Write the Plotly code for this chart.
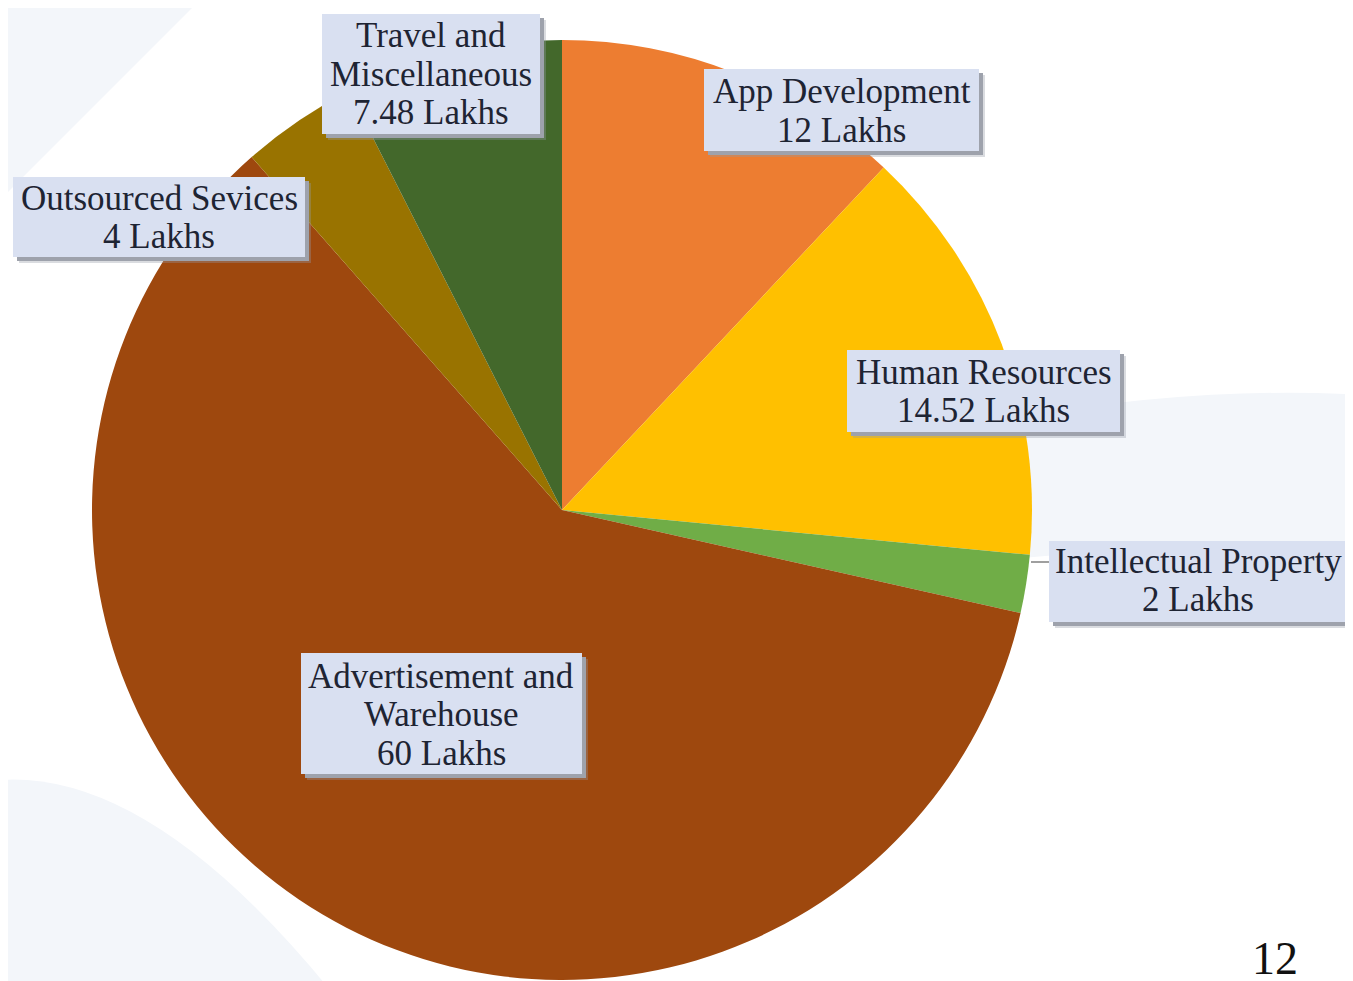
import plotly.graph_objects as go

categories = ["App Development", "Human Resources", "Intellectual Property",
              "Advertisement and Warehouse", "Outsourced Sevices", "Travel and Miscellaneous"]
values = [12, 14.52, 2, 60, 4, 7.48]
value_texts = ["12 Lakhs", "14.52 Lakhs", "2 Lakhs", "60 Lakhs", "4 Lakhs", "7.48 Lakhs"]
name_lines = [["App Development"], ["Human Resources"], ["Intellectual Property"],
              ["Advertisement and", "Warehouse"], ["Outsourced Sevices"],
              ["Travel and", "Miscellaneous"]]
colors = ["#ED7D31", "#FFC000", "#70AD47", "#9E480E", "#997300", "#43682B"]

W, H = 1353, 981
OFF = 8  # page body margin


def px(x):
    return (x - OFF) / W


def py(y):
    return 1 - (y - OFF) / H


# label boxes in window pixels: (x0, x1, y0, y1, first line centre y) -- layout only
label_boxes = [(704, 979, 69, 151, 92),
               (847, 1120, 350, 432, 372),
               (1049, 1347, 541, 622, 561),
               (301, 582, 653, 774, 676),
               (13, 305, 177, 257, 198),
               (322, 540, 14, 134, 36)]
PITCH = 38.5
FONT = "Liberation Serif, Times New Roman, DejaVu Serif, serif"
FSIZE = 35

fig = go.Figure()
fig.add_trace(go.Pie(
    labels=categories, values=values, sort=False, direction="clockwise", rotation=0,
    marker=dict(colors=colors, line=dict(width=0)),
    textinfo="none", hoverinfo="label+value", showlegend=False,
    domain=dict(x=[px(92), px(1032)], y=[py(980), py(40)]),
))

bg = "#F3F6FA"
shapes = [
    dict(type="path", xref="paper", yref="paper", layer="below",
         path=f"M {px(0)},{py(780)} Q {px(150)},{py(770)} {px(330)},{py(990)} L {px(0)},{py(990)} Z",
         fillcolor=bg, line=dict(width=0)),
    dict(type="path", xref="paper", yref="paper", layer="below",
         path=f"M {px(1000)},{py(420)} Q {px(1200)},{py(385)} {px(1361)},{py(395)} "
              f"L {px(1361)},{py(560)} Q {px(1200)},{py(540)} {px(1000)},{py(560)} Z",
         fillcolor=bg, line=dict(width=0)),
    dict(type="path", xref="paper", yref="paper", layer="below",
         path=f"M {px(0)},{py(0)} L {px(200)},{py(0)} Q {px(120)},{py(80)} {px(0)},{py(200)} Z",
         fillcolor=bg, line=dict(width=0)),
    dict(type="line", xref="paper", yref="paper", x0=px(1031), x1=px(1049),
         y0=py(562), y1=py(562), line=dict(color="#7F7F7F", width=1.5)),
]
annotations = []
for lines, vt, (x0, x1, y0, y1, ly) in zip(name_lines, value_texts, label_boxes):
    shapes.append(dict(type="rect", xref="paper", yref="paper", layer="above",
                       x0=px(x0 + 6), x1=px(x1 + 6), y0=py(y0 + 6), y1=py(y1 + 6),
                       fillcolor="rgba(150,155,165,0.35)", line=dict(width=0)))
    shapes.append(dict(type="rect", xref="paper", yref="paper", layer="above",
                       x0=px(x0 + 4), x1=px(x1 + 4), y0=py(y0 + 4), y1=py(y1 + 4),
                       fillcolor="#9EA2AC", line=dict(width=0)))
    shapes.append(dict(type="rect", xref="paper", yref="paper", layer="above",
                       x0=px(x0), x1=px(x1), y0=py(y0), y1=py(y1),
                       fillcolor="#D9E0F1", line=dict(width=0)))
    cx = (x0 + x1) / 2
    for i, t in enumerate(lines + [vt]):
        annotations.append(dict(text=t, x=px(cx), y=py(ly + i * PITCH), xref="paper", yref="paper",
                                xanchor="center", yanchor="middle", showarrow=False,
                                font=dict(family=FONT, size=FSIZE, color="#1E2433")))

annotations.append(dict(text="12", x=px(1275), y=py(958), xref="paper", yref="paper",
                        xanchor="center", yanchor="middle", showarrow=False,
                        font=dict(family=FONT, size=46, color="#111111")))

fig.update_layout(
    width=W, height=H, margin=dict(l=0, r=0, t=0, b=0),
    paper_bgcolor="#FFFFFF", plot_bgcolor="#FFFFFF",
    annotations=annotations, shapes=shapes,
)

fig.write_html("out.html")
